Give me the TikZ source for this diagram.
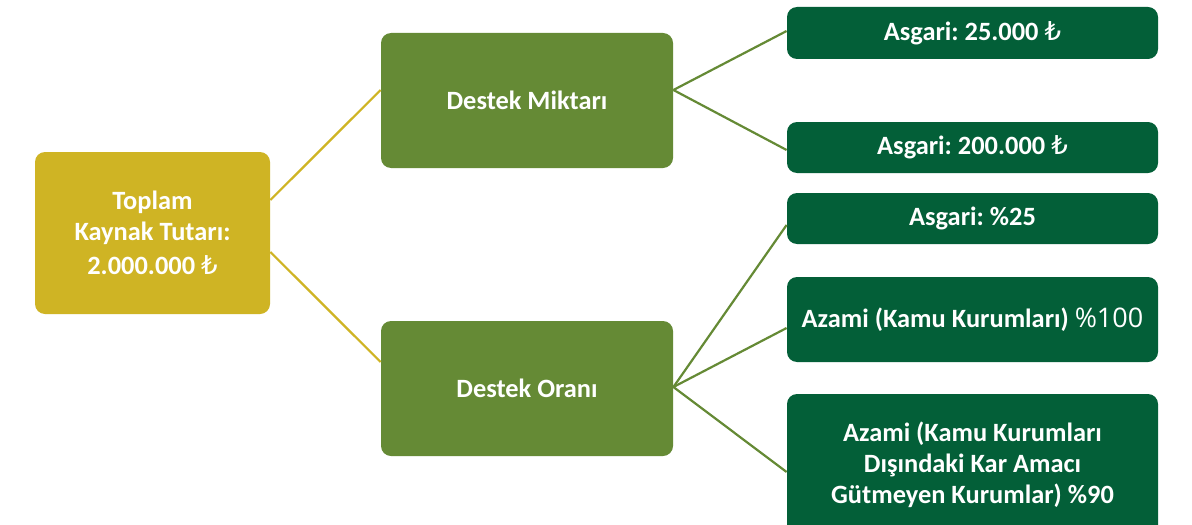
\documentclass[tikz,border=0pt]{standalone}
\usepackage{fontspec}
\setmainfont{Carlito}
\newfontfamily\lirafont{DejaVu Sans}
\newfontfamily\segfont{Open Sans}
\newcommand{\TL}{{\lirafont\mdseries\fontsize{13}{13}\selectfont ₺}}
\definecolor{goldc}{RGB}{207,180,36}
\definecolor{midg}{RGB}{101,138,53}
\definecolor{darkg}{RGB}{3,95,56}
\frenchspacing
\tikzset{
  box/.style={rectangle, rounded corners=5pt, text=white, align=center,
    font=\frenchspacing\bfseries\fontsize{13.2}{15.5}\selectfont, inner sep=2pt},
  rootbox/.style={box, fill=goldc, minimum width=117.5pt, minimum height=81pt},
  midbox/.style={box, fill=midg, minimum width=146pt, minimum height=67.5pt},
  leafbox/.style={box, fill=darkg, minimum width=185.5pt},
  goldline/.style={draw=goldc, line width=1.1pt},
  greenline/.style={draw=midg, line width=1.1pt}
}
\begin{document}
\begin{tikzpicture}[x=0.5pt,y=-0.5pt]
\useasboundingbox (0,0) rectangle (1192,524);
\fill[white] (0,0) rectangle (1192,524);
\node[rootbox] (tot) at (152.5,233) {Toplam\\Kaynak Tutarı:\\[1.5pt]2.000.000 \TL};
\node[midbox] (mik) at (527,100.5) {Destek Miktarı};
\node[midbox] (ora) at (527,388.5) {Destek Oranı};
\node[leafbox, minimum height=26pt] (a1) at (972.5,33) {Asgari: 25.000 \TL};
\node[leafbox, minimum height=25.5pt] (a2) at (972.5,147.5) {Asgari: 200.000 \TL};
\node[leafbox, minimum height=25.5pt] (a3) at (972.5,218.5) {Asgari: \%25};
\node[leafbox, minimum height=42.5pt] (a4) at (972.5,319.5) {Azami (Kamu Kurumları) {\segfont\mdseries\fontsize{13.5}{15}\selectfont\%100}};
\node[leafbox, minimum height=71pt] (a5) at (972.5,465) {Azami (Kamu Kurumları\\Dışındaki Kar Amacı\\Gütmeyen Kurumlar) \%90};
% connectors
\draw[goldline] ([yshift=16.5pt]tot.east) -- ([yshift=5.25pt]mik.west);
\draw[goldline] ([yshift=-9.5pt]tot.east) -- ([yshift=13.25pt]ora.west);
\draw[greenline] ([yshift=5.25pt]mik.east) -- ([yshift=1pt]a1.west);
\draw[greenline] ([yshift=5.25pt]mik.east) -- ([yshift=-1.25pt]a2.west);
\draw[greenline] ([yshift=0.75pt]ora.east) -- ([yshift=-3.25pt]a3.west);
\draw[greenline] ([yshift=0.75pt]ora.east) -- ([yshift=-4.25pt]a4.west);
\draw[greenline] ([yshift=0.75pt]ora.east) -- ([yshift=-3.5pt]a5.west);
\end{tikzpicture}
\end{document}
